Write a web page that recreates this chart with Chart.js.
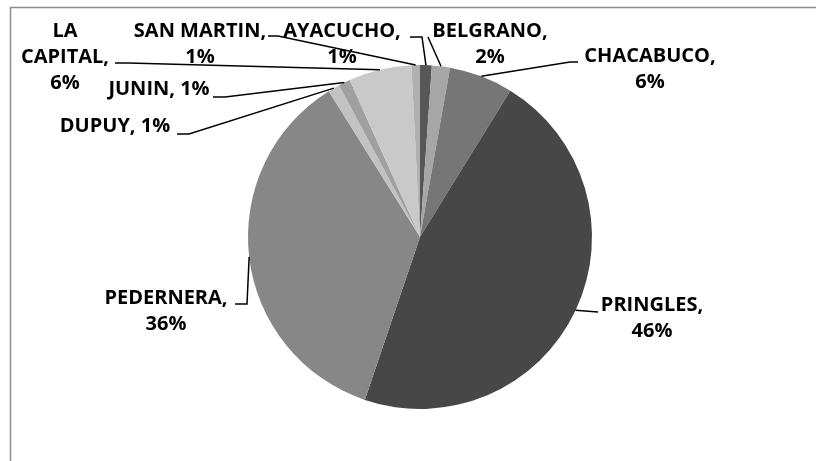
<!DOCTYPE html>
<html>
<head>
<meta charset="utf-8">
<script src="https://cdn.jsdelivr.net/npm/chart.js@4"></script>
<style>
  html, body { margin: 0; padding: 0; background: #fff; }
  #wrap { width: 816px; height: 461px; position: relative; }
</style>
</head>
<body>
<div id="wrap"><canvas id="pieChart" width="816" height="461"></canvas></div>
<script>
// departamentos y porcentajes
const departamentos = ['AYACUCHO', 'BELGRANO', 'CHACABUCO', 'PRINGLES', 'PEDERNERA', 'DUPUY', 'JUNIN', 'LA CAPITAL', 'SAN MARTIN'];
const porcentajes = [1.1, 1.7, 6.0, 46.4, 35.9, 1.1, 1.1, 5.9, 0.8];
const grises = ['#575757', '#a6a6a6', '#767676', '#474747', '#878787', '#c2c2c2', '#a0a0a0', '#c9c9c9', '#b0b0b0'];

// donde va cada etiqueta: lineas de texto, centro, inicio de la guia y codo
const etiquetas = [
    { lineas: ['AYACUCHO,', '1%'], x: 342, y: 31, lx: 410, ly: 37, codo: 12 },
    { lineas: ['BELGRANO,', '2%'], x: 490, y: 31, lx: 428, ly: 37, codo: 0 },
    { lineas: ['CHACABUCO,', '6%'], x: 650, y: 56, lx: 578, ly: 62, codo: -8 },
    { lineas: ['PRINGLES,', '46%'], x: 652, y: 305, lx: 598, ly: 312, codo: 0 },
    { lineas: ['PEDERNERA,', '36%'], x: 166, y: 298, lx: 235, ly: 304, codo: 12 },
    { lineas: ['DUPUY, 1%'], x: 115, y: 126, lx: 177, ly: 134, codo: 12 },
    { lineas: ['JUNIN, 1%'], x: 159, y: 89, lx: 213, ly: 97, codo: 12 },
    { lineas: ['LA', 'CAPITAL,', '6%'], x: 65, y: 31, lx: 115, ly: 63, codo: 13 },
    { lineas: ['SAN MARTIN,', '1%'], x: 200, y: 31, lx: 268, ly: 36, codo: 10 }
];

const marco = {
    id: 'marco',
    beforeDraw(chart) {
        const c = chart.ctx;
        c.save();
        c.strokeStyle = '#8c8c8c';
        c.lineWidth = 1.5;
        c.strokeRect(10.5, 7.5, 900, 500);
        c.restore();
    }
};

const rotulos = {
    id: 'rotulos',
    afterDatasetsDraw(chart) {
        const c = chart.ctx;
        const arcos = chart.getDatasetMeta(0).data;
        c.save();
        c.font = 'bold 20px "Open Sans"';
        c.fillStyle = '#000';
        c.textAlign = 'center';
        c.textBaseline = 'middle';
        arcos.forEach((arco, i) => {
            const e = etiquetas[i];
            const p = arco.getProps(['x', 'y', 'startAngle', 'endAngle', 'outerRadius'], true);
            const medio = (p.startAngle + p.endAngle) / 2;
            const fx = p.x + p.outerRadius * Math.cos(medio);
            const fy = p.y + p.outerRadius * Math.sin(medio);
            // guia
            c.strokeStyle = '#000';
            c.lineWidth = 1.5;
            c.beginPath();
            c.moveTo(e.lx, e.ly);
            c.lineTo(e.lx + e.codo, e.ly);
            c.lineTo(fx, fy);
            c.stroke();
            // texto
            e.lineas.forEach((t, k) => {
                c.fillText(t, e.x, e.y + k * 26);
            });
        });
        c.restore();
    }
};

const ctx = document.getElementById('pieChart').getContext('2d');
const pieChart = new Chart(ctx, {
    type: 'pie',
    data: {
        labels: departamentos,
        datasets: [{
            data: porcentajes,
            backgroundColor: grises,
            borderWidth: 0
        }]
    },
    options: {
        responsive: false,
        animation: false,
        layout: { padding: { left: 248, right: 224, top: 65, bottom: 52 } },
        plugins: {
            legend: { display: false },
            tooltip: { enabled: false }
        }
    },
    plugins: [marco, rotulos]
});
</script>
</body>
</html>
